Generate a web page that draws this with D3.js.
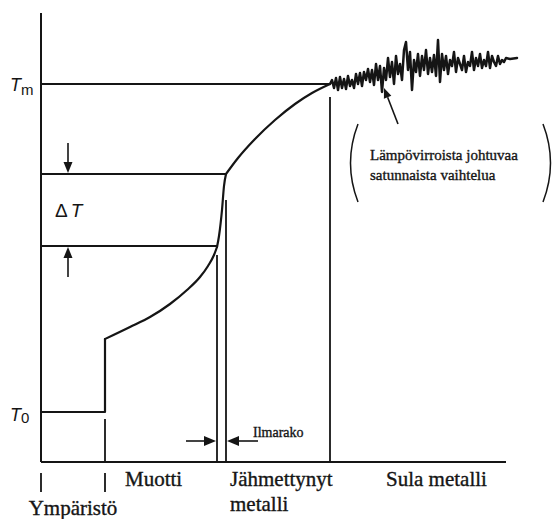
<!DOCTYPE html>
<html>
<head>
<meta charset="utf-8">
<script src="https://cdn.jsdelivr.net/npm/d3@7"></script>
<style>
  body { margin: 0; background: #fff; }
  .serif { font-family: "Liberation Serif", "Times New Roman", serif; fill: #151515; stroke: #151515; stroke-width: 0.35px; }
  .sym { font-family: "Liberation Sans", Arial, sans-serif; fill: #151515; }
</style>
</head>
<body>
<svg id="chart" width="552" height="519"></svg>
<script>
  'use strict';

  // x: distance across the casting (arbitrary units), t: temperature (arbitrary units)
  var interfaces = [12.8, 35.2, 37.0, 57.8];   // ympäristö|muotti, muotti|ilmarako, ilmarako|metalli, jähmettynyt|sula
  var interfaceTops = [8.6, 41.4, 52.4, 73.0];
  var tAmbient = 10.0;
  var tMelt = 75.6;
  var tDeltaTop = 57.6;
  var tDeltaBottom = 43.2;

  var ambientProfile = [[0, 10.0], [12.8, 10.0], [12.8, 24.6]];
  var mouldProfile = [
    [12.8, 24.6], [17.8, 27.0], [21.8, 29.0], [25.8, 31.6], [29.2, 34.4],
    [31.8, 37.0], [33.4, 39.2], [34.6, 41.4], [35.2, 43.0]
  ];
  var gapProfile = [[35.2, 43.0], [35.6, 45.2], [36.2, 50.4], [36.6, 55.2], [37.0, 57.6]];
  var solidProfile = [
    [37.0, 57.6], [39.4, 60.8], [42.8, 64.6], [46.8, 68.4], [50.8, 71.6], [54.2, 73.8], [57.8, 75.6]
  ];
  // satunnainen vaihtelu sulan puolella
  var liquidNoise = [
    [57.8, 75.6], [58.2, 76.4], [58.6, 74.8], [59.0, 76.8], [59.4, 74.4], [59.8, 77.0], [60.2, 74.8], [60.6, 76.6], [61.0, 74.6], [61.4, 77.2],
    [61.8, 75.2], [62.2, 76.4], [62.6, 74.8], [63.0, 77.6], [63.4, 75.6], [63.8, 77.8], [64.2, 75.2], [64.6, 78.0], [65.0, 76.4], [65.4, 78.6],
    [65.8, 76.0], [66.2, 78.4], [66.6, 75.4], [67.0, 79.6], [67.4, 76.4], [67.8, 79.2], [68.2, 74.0], [68.6, 78.8], [69.0, 76.4], [69.4, 80.8],
    [69.8, 77.0], [70.2, 80.0], [70.6, 75.6], [71.0, 81.2], [71.4, 77.6], [71.8, 79.6], [72.2, 76.4], [72.6, 82.4], [73.0, 84.0], [73.4, 78.4],
    [73.8, 82.0], [74.2, 74.4], [74.6, 80.4], [75.0, 78.0], [75.4, 81.6], [75.8, 77.2], [76.2, 81.2], [76.6, 78.4], [77.0, 82.4], [77.4, 77.6],
    [77.8, 80.8], [78.2, 78.0], [78.6, 81.4], [79.0, 77.2], [79.4, 84.4], [79.8, 76.0], [80.2, 81.6], [80.6, 78.4], [81.0, 81.2], [81.4, 77.6],
    [81.8, 80.4], [82.2, 79.2], [82.6, 82.0], [83.0, 78.0], [83.4, 80.8], [83.8, 79.6], [84.2, 78.4], [84.6, 81.2], [85.0, 78.0], [85.4, 80.0],
    [85.8, 79.2], [86.2, 82.0], [86.6, 78.4], [87.0, 80.8], [87.4, 79.2], [87.8, 81.6], [88.2, 78.8], [88.6, 80.4], [89.0, 79.2], [89.4, 82.0],
    [89.8, 78.8], [90.2, 81.2], [90.6, 80.0], [91.0, 79.2], [91.4, 81.2], [91.8, 79.6], [92.2, 80.4], [92.6, 80.0], [93.0, 80.8], [93.8, 80.6],
    [95.2, 80.8]
  ];
  var noteTarget = [68.6, 74.8];
  var noteTail = [71.4, 67.6];
  var noteLines = ['Lämpövirroista johtuvaa', 'satunnaista vaihtelua'];
  var xMax = 93;
  var tMax = 89.8;

  var svg = d3.select('#chart');
  var ink = '#151515';

  var x = d3.scaleLinear().domain([0, 93]).range([41, 506]);
  var y = d3.scaleLinear().domain([0, 90]).range([462, 12]);

  svg.append('rect').attr('width', 552).attr('height', 519).attr('fill', '#fff');

  function hline(t, x0, x1, w) {
    svg.append('line')
      .attr('x1', x(x0)).attr('x2', x(x1))
      .attr('y1', y(t)).attr('y2', y(t))
      .attr('stroke', ink).attr('stroke-width', w || 1.8);
  }

  function vline(xv, t0, t1, w) {
    svg.append('line')
      .attr('x1', x(xv)).attr('x2', x(xv))
      .attr('y1', y(t0)).attr('y2', y(t1))
      .attr('stroke', ink).attr('stroke-width', w || 1.8);
  }

  function profile(points, curve, w) {
    svg.append('path')
      .attr('d', d3.line().curve(curve)
        .x(function(d) { return x(d[0]); }).y(function(d) { return y(d[1]); })(points))
      .attr('fill', 'none').attr('stroke', ink).attr('stroke-width', w)
      .attr('stroke-linejoin', 'round').attr('stroke-linecap', 'round');
  }

  // line with a filled head at (x2, y2), pixel coordinates
  function arrow(x1, y1, x2, y2, headLen, headW) {
    var dx = x2 - x1, dy = y2 - y1;
    var len = Math.sqrt(dx * dx + dy * dy);
    var ux = dx / len, uy = dy / len;
    var bx = x2 - ux * headLen, by = y2 - uy * headLen;
    svg.append('line')
      .attr('x1', x1).attr('y1', y1).attr('x2', bx).attr('y2', by)
      .attr('stroke', ink).attr('stroke-width', 1.6);
    svg.append('path')
      .attr('d', 'M' + x2 + ',' + y2 +
        'L' + (bx - uy * headW) + ',' + (by + ux * headW) +
        'L' + (bx + uy * headW) + ',' + (by - ux * headW) + 'Z')
      .attr('fill', ink);
  }

  // axes
  vline(0, 0, tMax, 2);
  hline(0, 0, xMax, 2);

  // reference levels
  hline(tMelt, 0, interfaces[3]);
  hline(tDeltaTop, 0, interfaces[2]);
  hline(tDeltaBottom, 0, interfaces[1]);

  // interfaces
  interfaces.forEach(function(xv, i) {
    vline(xv, 0, interfaceTops[i]);
  });

  // temperature profile
  profile(ambientProfile, d3.curveLinear, 2.2);
  profile(mouldProfile, d3.curveMonotoneX, 2.2);
  profile(gapProfile, d3.curveMonotoneX, 2.2);
  profile(solidProfile, d3.curveMonotoneX, 2.2);
  profile(liquidNoise, d3.curveLinear, 2.5);

  // delta T arrows
  var ax = x(5.4);
  arrow(ax, y(tDeltaTop) - 31, ax, y(tDeltaTop) - 1, 11, 4.5);
  arrow(ax, y(tDeltaBottom) + 31, ax, y(tDeltaBottom) + 1, 11, 4.5);

  // air gap arrows
  var gy = y(4.2);
  arrow(x(interfaces[1]) - 31, gy, x(interfaces[1]) - 1, gy, 12, 5);
  arrow(x(interfaces[2]) + 32, gy, x(interfaces[2]) + 1, gy, 12, 5);
  svg.append('text').attr('class', 'serif')
    .attr('x', x(interfaces[2]) + 27).attr('y', gy - 4)
    .style('font-size', '14px')
    .text('Ilmarako');

  // symbols on the temperature axis
  function tLabel(t, sub, dy, subDy) {
    var txt = svg.append('text').attr('class', 'sym')
      .attr('x', 10).attr('y', y(t) + dy);
    txt.append('tspan').style('font-style', 'italic').style('font-size', '18px').text('T');
    txt.append('tspan').style('font-size', '15px').attr('dx', 0).attr('dy', subDy).text(sub);
  }
  tLabel(tMelt, 'm', 7, 4);
  tLabel(tAmbient, '0', 9, 2);

  var dT = svg.append('text').attr('class', 'sym')
    .attr('x', 55).attr('y', (y(tDeltaTop) + y(tDeltaBottom)) / 2 + 7)
    .style('font-size', '19px');
  dT.append('tspan').text('\u0394');
  dT.append('tspan').style('font-style', 'italic').attr('dx', 3).text('T');

  // annotation of the random fluctuation
  arrow(x(noteTail[0]), y(noteTail[1]), x(noteTarget[0]), y(noteTarget[1]), 10, 4);
  svg.append('path').attr('d', 'M358,124 Q343,163 358,202')
    .attr('fill', 'none').attr('stroke', ink).attr('stroke-width', 1.5);
  svg.append('path').attr('d', 'M543,124 Q558,163 543,202')
    .attr('fill', 'none').attr('stroke', ink).attr('stroke-width', 1.5);
  noteLines.forEach(function(s, i) {
    svg.append('text').attr('class', 'serif')
      .attr('x', 370).attr('y', 160 + i * 20)
      .style('font-size', '15px')
      .text(s);
  });

  // region labels below the axis
  var base = y(0);
  [0, interfaces[0]].forEach(function(xv) {
    svg.append('line')
      .attr('x1', x(xv)).attr('x2', x(xv))
      .attr('y1', base + 11).attr('y2', base + 30)
      .attr('stroke', ink).attr('stroke-width', 1.8);
  });

  var regionLabels = [
    { lines: ['Ympäristö'], x: (x(0) + x(interfaces[0])) / 2, dy: 53, anchor: 'middle' },
    { lines: ['Muotti'], x: x(interfaces[0]) + 20, dy: 24, anchor: 'start' },
    { lines: ['Jähmettynyt', 'metalli'], x: x(interfaces[2]) + 4, dy: 24, anchor: 'start' },
    { lines: ['Sula metalli'], x: x(interfaces[3]) + 56, dy: 24, anchor: 'start' }
  ];
  regionLabels.forEach(function(d) {
    d.lines.forEach(function(s, i) {
      svg.append('text').attr('class', 'serif')
        .attr('x', d.x).attr('y', base + d.dy + i * 25)
        .attr('text-anchor', d.anchor)
        .style('font-size', '21px')
        .text(s);
    });
  });
</script>
</body>
</html>
